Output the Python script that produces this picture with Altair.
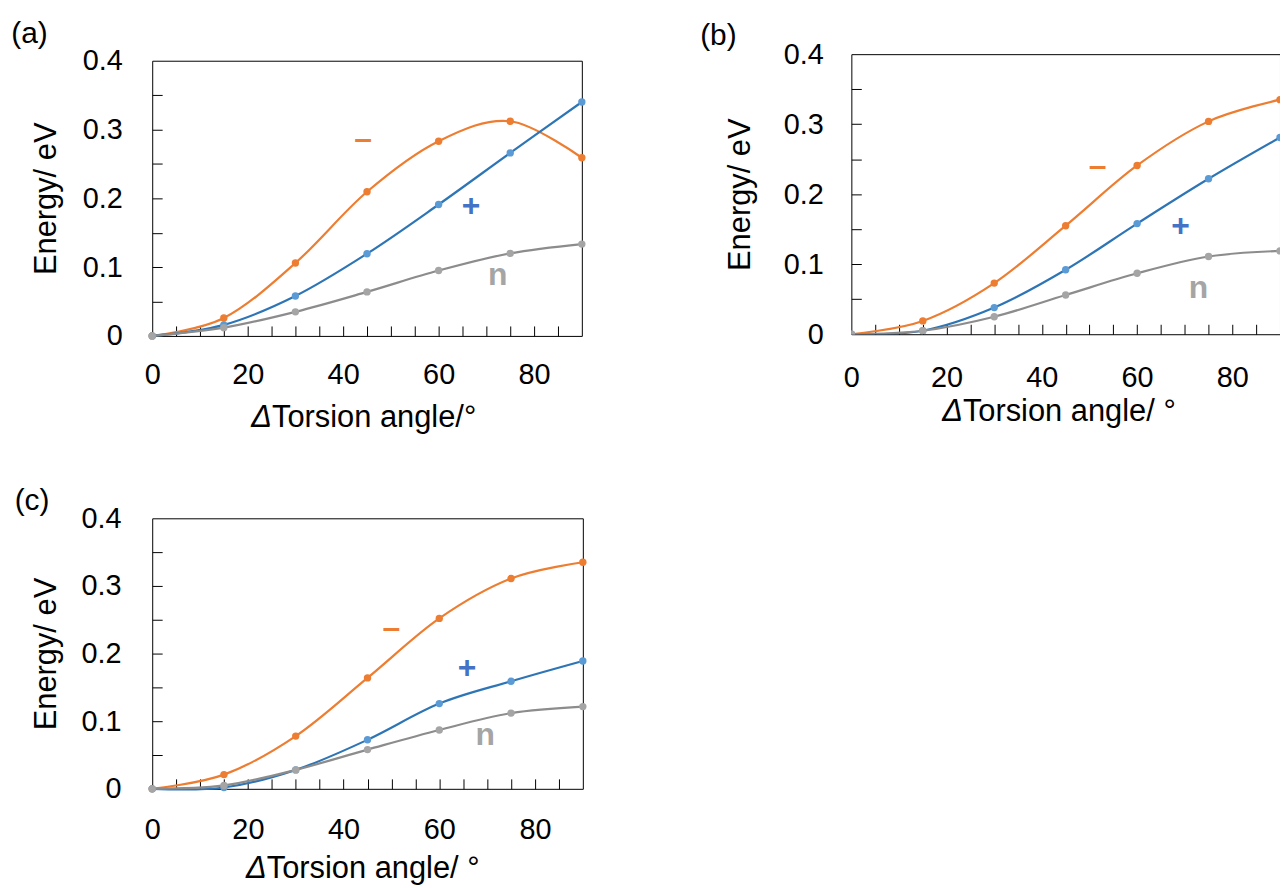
import altair as alt
import pandas as pd

# ---------------- data ----------------
angles = [0, 15, 30, 45, 60, 75, 90]

a_minus = [0, 0.026, 0.106, 0.2095, 0.283, 0.312, 0.259]
a_plus = [0, 0.016, 0.058, 0.1195, 0.191, 0.266, 0.340]
a_n = [0, 0.012, 0.035, 0.064, 0.095, 0.120, 0.1335]

b_minus = [0, 0.019, 0.073, 0.155, 0.241, 0.304, 0.335]
b_plus = [0, 0.005, 0.038, 0.092, 0.158, 0.222, 0.281]
b_n = [0, 0.005, 0.025, 0.056, 0.087, 0.111, 0.119]

c_minus = [0, 0.021, 0.078, 0.164, 0.252, 0.311, 0.335]
c_plus = [0, 0.002, 0.028, 0.0725, 0.126, 0.159, 0.189]
c_n = [0, 0.005, 0.028, 0.058, 0.087, 0.112, 0.1216]

sign_text = ["–", "+", "n"]
sign_colors = ["#ED7D31", "#4472C4", "#A5A5A5"]
a_sign_x = [44.2, 66.8, 72.4]
a_sign_y = [0.286, 0.189, 0.089]
b_sign_x = [51.7, 69.1, 72.9]
b_sign_y = [0.240, 0.155, 0.066]
c_sign_x = [50.0, 65.8, 69.6]
c_sign_y = [0.238, 0.178, 0.080]

x_label_values = [0, 20, 40, 60, 80]
x_tick_values = [5, 10, 15, 20, 25, 30, 35, 40, 45, 50, 55, 60, 65, 70, 75, 80, 85]
y_label_values = [0, 0.1, 0.2, 0.3, 0.4]
y_tick_values = [0.05, 0.1, 0.15, 0.2, 0.25, 0.3, 0.35]

line_colors = ["#ED7D31", "#2E75B6", "#8C8C8C"]
point_colors = ["#ED7D31", "#5B9BD5", "#A5A5A5"]

FONT = "Liberation Sans"
LABEL_FS = 29
TITLE_FS = 31
# Arial / Liberation Sans advance widths (em) for the x title pieces
W_DELTA = 0.668
W_REST = {"Torsion angle/°": 6.736, "Torsion angle/ °": 7.014}


def panel(label, series, sx, sy, p):
    W, H, m = p["w"], p["h"], p["m"]
    xs = alt.Scale(domain=[0, 90], nice=False, zero=False)
    ys = alt.Scale(domain=[0, 0.4], nice=False, zero=False, range=[H, m])
    k = "#000"

    main_x = alt.Axis(orient="bottom", values=x_label_values, ticks=False, tickSize=0,
                      domain=True, domainColor=k, domainWidth=1, grid=False,
                      labelFlush=False, labelOverlap=False, labelFontSize=LABEL_FS,
                      labelColor=k, labelPadding=p["xlp"], title=None)
    main_y = alt.Axis(orient="left", values=y_label_values, format=".1~f", ticks=False,
                      tickSize=0, domain=True, domainColor=k, domainWidth=1, grid=False,
                      labelFlush=False, labelOverlap=False, labelFontSize=LABEL_FS,
                      labelColor=k, labelPadding=p["ylp"], title="Energy/ eV",
                      titleFontSize=TITLE_FS, titleFontWeight="normal", titleColor=k,
                      titlePadding=p["ytp"])
    tick_x = alt.Axis(orient="top", offset=-H, values=x_tick_values, labels=False,
                      domain=False, grid=False, ticks=True, tickSize=10, tickColor=k,
                      tickWidth=1, minExtent=0, title=None)
    tick_y = alt.Axis(orient="right", offset=-W, values=y_tick_values, labels=False,
                      domain=False, grid=False, ticks=True, tickSize=10, tickColor=k,
                      tickWidth=1, minExtent=0, title=None)
    frame_x = alt.Axis(orient="top", offset=-m, labels=False, ticks=False, grid=False,
                       domain=True, domainColor=k, domainWidth=1, minExtent=0,
                       title=None)
    frame_y = alt.Axis(orient="right", labels=False, ticks=False, grid=False,
                       domain=True, domainColor=k, domainWidth=1, minExtent=0,
                       title=None)
    axes = [(main_x, main_y), (tick_x, tick_y), (frame_x, frame_y)]

    layers = []
    j = 0
    for i, vals in enumerate(series):
        df = pd.DataFrame({"angle": angles, "energy": vals})
        for kind in ("line", "pts"):
            ax, ay = axes[j] if j < len(axes) else (None, None)
            j += 1
            if kind == "line":
                mk = alt.Chart(df).mark_line(interpolate="cardinal", color=line_colors[i],
                                             strokeWidth=2.2, clip=p["clip"])
            else:
                mk = alt.Chart(df).mark_circle(size=55, opacity=1, color=point_colors[i],
                                               clip=p["clip"])
            layers.append(mk.encode(
                x=alt.X("angle:Q", scale=xs, axis=ax),
                y=alt.Y("energy:Q", scale=ys, axis=ay),
            ))

    sdf = pd.DataFrame({"sx": sx, "sy": sy, "s": sign_text, "c": sign_colors})
    layers.append(alt.Chart(sdf).mark_text(fontSize=32, fontWeight="bold", align="center",
                                           baseline="middle").encode(
        x=alt.X("sx:Q", scale=xs, axis=None),
        y=alt.Y("sy:Q", scale=ys, axis=None),
        text="s:N",
        color=alt.Color("c:N", scale=None),
    ))

    # panel letter
    layers.append(alt.Chart(pd.DataFrame({"t": [label]})).mark_text(
        align="left", baseline="top", fontSize=30, color=k).encode(
        x=alt.value(p["lx"]), y=alt.value(p["ly"]), text="t:N"))

    # x title: italic Δ followed by upright text, centred under the plot
    rest = p["xtitle"]
    total = (W_DELTA + W_REST[rest]) * TITLE_FS
    split = W / 2 + p["tdx"] - total / 2 + W_DELTA * TITLE_FS
    ty = H + p["xlp"] + LABEL_FS + p["xtp"]
    layers.append(alt.Chart(pd.DataFrame({"t": ["Δ"]})).mark_text(
        align="right", baseline="top", fontSize=TITLE_FS, fontStyle="italic",
        color=k).encode(x=alt.value(split), y=alt.value(ty), text="t:N"))
    layers.append(alt.Chart(pd.DataFrame({"t": [rest]})).mark_text(
        align="left", baseline="top", fontSize=TITLE_FS, color=k).encode(
        x=alt.value(split), y=alt.value(ty), text="t:N"))

    return alt.layer(*layers).properties(width=W, height=H).resolve_axis(
        x="independent", y="independent")


pa = panel("(a)", [a_minus, a_plus, a_n], a_sign_x, a_sign_y,
           dict(w=432, h=283.3, m=6.6, xlp=24.5, xtp=14, ylp=30, ytp=20,
                lx=-141.7, ly=-35.5, tdx=-1.5, xtitle="Torsion angle/°", clip=False))
pb = panel("(b)", [b_minus, b_plus, b_n], b_sign_x, b_sign_y,
           dict(w=431, h=281.6, m=0, xlp=29.5, xtp=5, ylp=28.3, ytp=27,
                lx=-152, ly=-33.5, tdx=-5, xtitle="Torsion angle/ °", clip=True))
pc = panel("(c)", [c_minus, c_plus, c_n], c_sign_x, c_sign_y,
           dict(w=433, h=272, m=0, xlp=27, xtp=10, ylp=31.3, ytp=19,
                lx=-138.3, ly=-32.8, tdx=-3, xtitle="Torsion angle/ °", clip=False))

row = alt.hconcat(pa, pb, spacing=114)
chart = alt.vconcat(row, pc, spacing=52.7).properties(
    padding={"left": 3, "top": 8, "right": 0, "bottom": 0}
).configure(font=FONT).configure_view(strokeWidth=0)

chart.save("out.html", embed_options={"renderer": "svg", "actions": False})
